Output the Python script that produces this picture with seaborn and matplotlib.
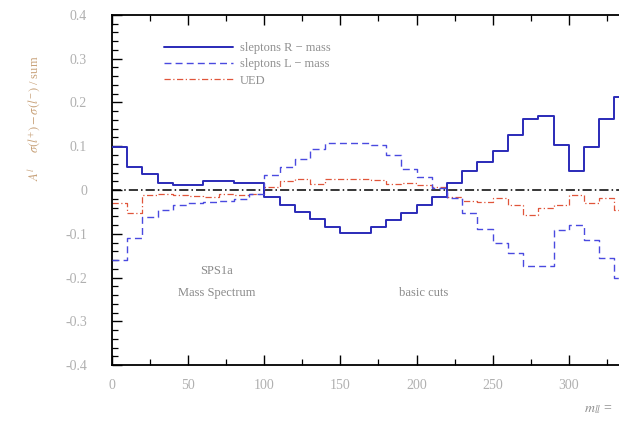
import numpy as np
import pandas as pd
import matplotlib
matplotlib.use("Agg")
import matplotlib.pyplot as plt
import seaborn as sns
from matplotlib.ticker import MultipleLocator

# ---- data (bins of 10 GeV, left edges) ----
bin_left = [0, 10, 20, 30, 40, 50, 60, 70, 80, 90,
            100, 110, 120, 130, 140, 150, 160, 170, 180, 190,
            200, 210, 220, 230, 240, 250, 260, 270, 280, 290,
            300, 310, 320, 330]
sleptons_R = [0.099, 0.053, 0.036, 0.017, 0.011, 0.011, 0.020, 0.020, 0.017, 0.016,
              -0.015, -0.034, -0.050, -0.067, -0.084, -0.098, -0.098, -0.084, -0.069, -0.052,
              -0.034, -0.015, 0.016, 0.044, 0.065, 0.089, 0.126, 0.162, 0.168, 0.103,
              0.044, 0.099, 0.162, 0.213]
sleptons_L = [-0.160, -0.110, -0.062, -0.046, -0.034, -0.029, -0.027, -0.025, -0.021, -0.008,
              0.034, 0.052, 0.071, 0.093, 0.108, 0.108, 0.108, 0.103, 0.080, 0.047,
              0.030, 0.004, -0.019, -0.052, -0.088, -0.122, -0.145, -0.174, -0.174, -0.092,
              -0.080, -0.115, -0.155, -0.200]
ued = [-0.030, -0.053, -0.011, -0.008, -0.012, -0.013, -0.015, -0.010, -0.012, -0.008,
       0.007, 0.020, 0.025, 0.013, 0.025, 0.025, 0.025, 0.024, 0.013, 0.017,
       0.011, 0.006, -0.017, -0.025, -0.027, -0.018, -0.034, -0.057, -0.041, -0.034,
       -0.011, -0.029, -0.019, -0.045]
bin_width = 10
labels = ["sleptons R \u2212 mass", "sleptons L \u2212 mass", "UED"]
yticks = [-0.4, -0.3, -0.2, -0.1, 0, 0.1, 0.2, 0.3, 0.4]
ytick_labels = ["-0.4", "-0.3", "-0.2", "-0.1", "0", "0.1", "0.2", "0.3", "0.4"]
xticks = [0, 50, 100, 150, 200, 250, 300]

sns.set_theme(style="white")
plt.rcParams['font.family'] = ['Liberation Serif', 'DejaVu Serif']
plt.rcParams['mathtext.fontset'] = 'stix'

fig = plt.figure(figsize=(6.19, 4.22), dpi=100)
ax = fig.add_axes([0.181, 0.135, 0.819, 0.8295])

def step_df(vals):
    x = list(bin_left) + [bin_left[-1] + bin_width]
    y = list(vals) + [vals[-1]]
    return pd.DataFrame({"x": x, "y": y})

ax.axhline(0, color="black", lw=1.1, ls=(0, (6, 2, 1, 2)), zorder=1)

sns.lineplot(data=step_df(sleptons_R), x="x", y="y", ax=ax, drawstyle="steps-post",
             color="#2a2ab8", lw=1.4, label=labels[0], zorder=3)
sns.lineplot(data=step_df(sleptons_L), x="x", y="y", ax=ax, drawstyle="steps-post",
             color="#4a4ae0", lw=1.0, ls=(0, (5, 3)), label=labels[1], zorder=3)
sns.lineplot(data=step_df(ued), x="x", y="y", ax=ax, drawstyle="steps-post",
             color="#e0553a", lw=0.9, ls=(0, (5, 2, 1, 2)), label=labels[2], zorder=2)

ax.set_xlim(0, 333)
ax.set_ylim(-0.4, 0.4)
ax.set_yticks(yticks)
ax.set_yticklabels(ytick_labels)
ax.set_xticks(xticks)
ax.yaxis.set_minor_locator(MultipleLocator(0.02))
ax.xaxis.set_minor_locator(MultipleLocator(25))
ax.tick_params(axis="both", which="major", direction="in", length=7, width=1.0,
               color="black", labelcolor="#b0b0b0", labelsize=10)
ax.tick_params(axis="y", which="major", pad=18)
ax.tick_params(axis="x", which="major", pad=10, bottom=True, top=True)
ax.tick_params(axis="both", which="minor", direction="in", length=4, width=0.9,
               color="black", left=True, bottom=True)
ax.tick_params(axis="x", which="minor", top=True)
ax.tick_params(axis="y", which="both", left=True)

for s in ["left", "bottom", "top"]:
    ax.spines[s].set_visible(True)
    ax.spines[s].set_color("black")
    ax.spines[s].set_linewidth(1.3)
ax.spines["right"].set_visible(False)

ax.set_xlabel("")
ax.set_ylabel("")

leg = ax.legend(loc="upper left", bbox_to_anchor=(0.08, 0.955), frameon=False,
                fontsize=9, handlelength=5.5, labelspacing=0.35, handletextpad=0.6)
for t in leg.get_texts():
    t.set_color("#909090")

fig.text(0.055, 0.72, r"$A^{l}$     $\sigma(l^{+})-\sigma(l^{-})$ / sum",
         rotation=90, ha="center", va="center", fontsize=9, color="#c8a27a")
ax.text(0.207, 0.268, "SPS1a", transform=ax.transAxes, ha="center", va="center",
        fontsize=9, color="#8a8a8a")
ax.text(0.207, 0.205, "Mass Spectrum", transform=ax.transAxes, ha="center", va="center",
        fontsize=9, color="#8a8a8a")
ax.text(0.615, 0.205, "basic cuts", transform=ax.transAxes, ha="center", va="center",
        fontsize=9, color="#8a8a8a")
fig.text(0.99, 0.03, r"$m_{ll}$ =", ha="right", va="center", fontsize=10,
         color="#909090")

fig.savefig("out.png", dpi=100)
